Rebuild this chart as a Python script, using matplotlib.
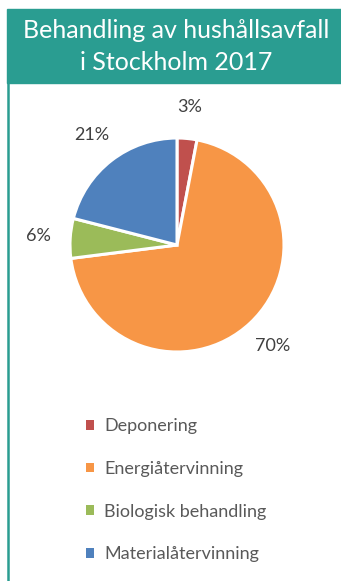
import matplotlib
matplotlib.use("Agg")
import matplotlib.pyplot as plt
from matplotlib.patches import Rectangle, Patch
from matplotlib.lines import Line2D

# ── Data ────────────────────────────────────────────────────────────────
categories = ["Deponering", "Energiåtervinning", "Biologisk behandling", "Materialåtervinning"]
shares = [3, 70, 6, 21]
colors = ["#C0504D", "#F79646", "#9BBB59", "#4F81BD"]
title_lines = ["Behandling av hushållsavfall", "i Stockholm 2017"]

TEAL = "#2A9D91"
W, H = 341, 581

fig = plt.figure(figsize=(W / 100, H / 100), dpi=100)
fig.patch.set_facecolor("white")

# Banner + left border line
fig.patches.append(Rectangle((7 / W, 1 - 83 / H), 1 - 7 / W, 74 / H,
                             transform=fig.transFigure, color=TEAL, zorder=0))
fig.add_artist(Line2D([8 / W, 8 / W], [0, 1 - 83 / H], transform=fig.transFigure,
                      color=TEAL, linewidth=1.8))

for i, line in enumerate(title_lines):
    fig.text(176 / W, 1 - (31 + 32 * i) / H, line, color="white", fontsize=18,
             family="Lato", ha="center", va="center")

# ── Pie ─────────────────────────────────────────────────────────────────
cx, cy, r = 177, 245, 107
ax = fig.add_axes([(cx - r) / W, (H - cy - r) / H, 2 * r / W, 2 * r / H])
wedges, texts, autotexts = ax.pie(
    shares, colors=colors, startangle=90, counterclock=False,
    autopct="%d%%", pctdistance=1.3,
    wedgeprops=dict(edgecolor="white", linewidth=2.2),
    textprops=dict(color="#404040", fontsize=13, family="Lato"),
)
ax.set_aspect("equal")
ax.set_xlim(-1, 1)
ax.set_ylim(-1, 1)
ax.axis("off")

# ── Legend ──────────────────────────────────────────────────────────────
handles = [Patch(facecolor=c, edgecolor="none") for c in colors]
fig.legend(handles, categories, loc="upper left", bbox_to_anchor=(79 / W, 1 - 411 / H),
           frameon=False, labelcolor="#595959",
           prop=dict(family="Lato", size=13),
           handlelength=0.45, handleheight=0.45, handletextpad=0.55,
           labelspacing=1.48, borderaxespad=0)

fig.savefig("out.png", dpi=100)
